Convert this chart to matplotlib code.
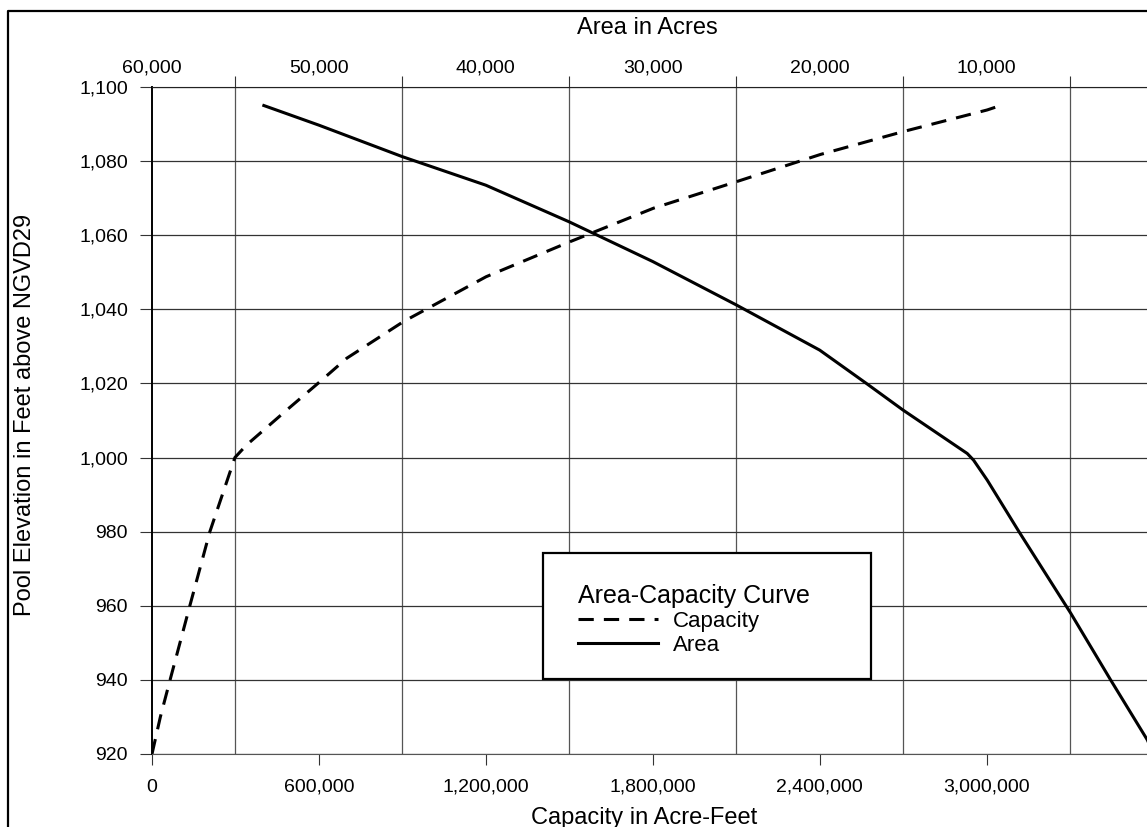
import matplotlib
matplotlib.use('Agg')
import matplotlib.pyplot as plt
from matplotlib.lines import Line2D
from matplotlib.patches import Rectangle
from matplotlib.ticker import FuncFormatter

plt.rcParams['font.family'] = ['Liberation Sans', 'DejaVu Sans']

# capacity curve (elevation ft, capacity acre-feet)
cap_elev = [920, 930, 940, 960, 980, 1000, 1003.4, 1012.8, 1020.5, 1026.8,
            1036.7, 1048.8, 1058.2, 1067.3, 1074.5, 1081.8, 1088.0, 1093.8, 1095]
capacity = [0, 30000, 65000, 136000, 208000, 298000, 340000, 484000, 604000, 700000,
            904000, 1201000, 1501000, 1803000, 2103000, 2403000, 2702000, 3002000, 3050000]

# area curve (elevation ft, area acres)
area_elev = [1095, 1089.7, 1081.2, 1073.5, 1063.6, 1052.9, 1041.2, 1029.0, 1020.0,
             1012.8, 1001.1, 999.3, 993.9, 980.0, 958.0, 940.0, 923.8, 920]
area = [53300, 50000, 45000, 40000, 35000, 30000, 25000, 20000, 17200,
        15000, 11160, 10780, 9960, 8060, 4960, 2570, 370, 0]

elev_ticks = [920, 940, 960, 980, 1000, 1020, 1040, 1060, 1080, 1100]
cap_ticks = [0, 600000, 1200000, 1800000, 2400000, 3000000]
area_ticks = [60000, 50000, 40000, 30000, 20000, 10000]

W, H = 1147, 827
fig = plt.figure(figsize=(W / 100, H / 100), dpi=100)
ax = fig.add_axes([152 / W, 73 / H, 1001.5 / W, 667 / H])
ax2 = ax.twiny()

comma = FuncFormatter(lambda v, p: f'{int(v):,}')
grid_c = '#555555'

ax.set_xlim(0, 3600000)
ax.set_ylim(920, 1100)
ax.set_xticks(cap_ticks)
ax.set_xticks(range(0, 3600001, 300000), minor=True)
ax.set_yticks(elev_ticks)
ax.xaxis.set_major_formatter(comma)
ax.yaxis.set_major_formatter(comma)
ax.tick_params(axis='x', which='major', length=8, width=0.8, color='#333333',
               pad=10, labelsize=14)
ax.tick_params(axis='x', which='minor', length=0)
ax.tick_params(axis='y', length=8.6, width=0.8, color='#333333', pad=8.6, labelsize=14)
ax.grid(True, axis='x', which='minor', color=grid_c, lw=0.9)
ax.grid(True, axis='y', which='major', color='#333333', lw=0.9)
for s in ['top', 'right']:
    ax.spines[s].set_visible(False)
ax.spines['bottom'].set_color(grid_c)
ax.spines['left'].set_linewidth(1.4)

ax2.set_xlim(60000, 0)
ax2.set_xticks(area_ticks)
ax2.set_xticks([55000, 45000, 35000, 25000, 15000, 5000], minor=True)
ax2.xaxis.set_major_formatter(comma)
ax2.tick_params(axis='x', which='major', length=0, pad=7.4, labelsize=14)
ax2.tick_params(axis='x', which='minor', length=8, width=0.8, color='#333333')
for s in ['bottom', 'left', 'right']:
    ax2.spines[s].set_visible(False)
ax2.spines['top'].set_color('#222222')

cap_line, = ax.plot(capacity, cap_elev, color='black', lw=2.2,
                    dashes=(5, 3.3), label='Capacity')
area_line, = ax2.plot(area, area_elev, color='black', lw=2.2, label='Area')

# legend box
ax2.add_patch(Rectangle((0.3904, 0.1124), 0.3275, 0.1889, transform=ax2.transAxes,
                        facecolor='white', edgecolor='black', lw=1.6, zorder=5))
leg = ax2.legend(handles=[cap_line, area_line], title='Area-Capacity Curve',
                 loc='upper left', bbox_to_anchor=(0.4254, 0.2556), frameon=False,
                 borderpad=0, borderaxespad=0, fontsize=16, title_fontsize=18,
                 handlelength=3.6, handletextpad=0.68, labelspacing=0.14,
                 alignment='left')
leg.set_zorder(6)

fig.text(647 / W, 1 - 34 / H, 'Area in Acres', fontsize=17, ha='center', va='baseline')
fig.text(644 / W, 1 - 824 / H, 'Capacity in Acre-Feet', fontsize=17, ha='center',
         va='baseline')
fig.text(25 / W, 1 - 415 / H, 'Pool Elevation in Feet above NGVD29', fontsize=17,
         rotation=90, ha='center', va='center')

fig.add_artist(Line2D([8 / W, 8 / W, 1.01], [-0.01, 1 - 11 / H, 1 - 11 / H],
                      transform=fig.transFigure, color='black', lw=1.6))

fig.savefig('out.png', dpi=100)
